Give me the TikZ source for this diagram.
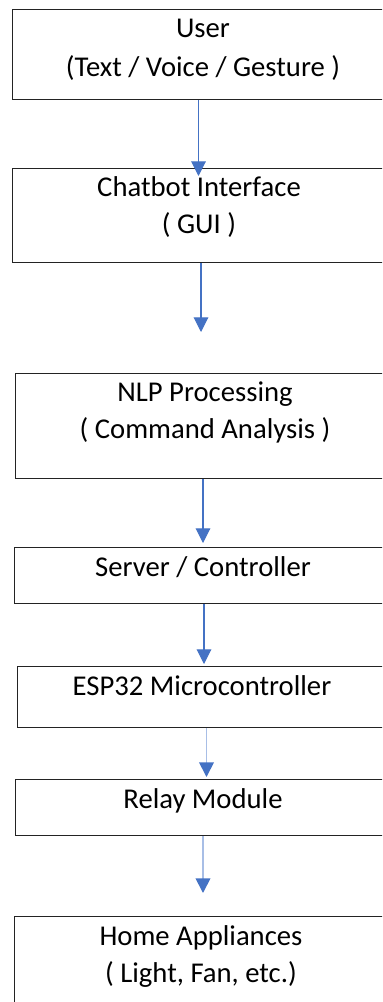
\documentclass[tikz,border=0pt]{standalone}
\usepackage{fontspec}
\setmainfont{Carlito}
\usetikzlibrary{arrows.meta,positioning}
\definecolor{flowblue}{RGB}{68,114,196}
\definecolor{fadeblue}{RGB}{168,190,230}
\definecolor{edge}{RGB}{35,35,35}

\tikzset{
  block/.style={draw=edge, line width=0.9pt, minimum width=285pt, inner sep=0pt, anchor=north west},
  caption/.style={anchor=base, align=center, inner sep=0pt, font=\fontsize{21.5}{27.75}\selectfont},
  flow/.style={flowblue, line width=0.8pt, -{Triangle[length=11pt,width=11pt]}},
  faded/.style={fadeblue, line width=1.3pt, -{Triangle[length=11pt,width=11pt,color=flowblue]}}
}

\begin{document}
\begin{tikzpicture}[x=0.75pt,y=-0.75pt]
  \useasboundingbox (0,0) rectangle (382,1002);
  \clip (0,0) rectangle (382,1002);

  % boxes
  \node[block, minimum height=67.5pt] (user) at (12,9) {};
  \node[block, minimum height=70.5pt] (gui) at (12,168) {};
  \node[block, minimum height=78.75pt] (nlp) at (15,373) {};
  \node[block, minimum height=42pt] (server) at (14,547) {};
  \node[block, minimum height=45.75pt] (esp) at (17,666) {};
  \node[block, minimum height=42pt] (relay) at (15,779) {};
  \node[block, minimum height=82.5pt] (home) at (14,916) {};

  % labels (anchor base = last line)
  \node[caption] (userTxt) at (203,77) {User\\[1.5pt](Text / Voice / Gesture )};
  \node[caption] (guiTxt) at (199,233) {Chatbot Interface\\( GUI )};
  \node[caption] (nlpTxt) at (205,438) {NLP Processing\\( Command Analysis )};
  \node[caption] (serverTxt) at (203,576) {Server / Controller};
  \node[caption] (espTxt) at (202,695) {ESP32 Microcontroller};
  \node[caption] (relayTxt) at (203,808) {Relay Module};
  \node[caption] (homeTxt) at (201,982) {Home Appliances\\( Light, Fan, etc.)};

  % arrows
  \coordinate (tip1) at (198.5,176);
  \coordinate (tip2) at (201,332);
  \coordinate (tip3) at (203,543);
  \coordinate (tip4) at (204,664);
  \coordinate (tip5) at (206.5,777);
  \coordinate (tip6) at (203,893);
  \draw[flow] (user.south -| tip1) -- (tip1);
  \draw[flow] (gui.south -| tip2) -- (tip2);
  \draw[flow] (nlp.south -| tip3) -- (tip3);
  \draw[flow] (server.south -| tip4) -- (tip4);
  \draw[faded] (esp.south -| tip5) -- (tip5);
  \draw[faded] (relay.south -| tip6) -- (tip6);
\end{tikzpicture}
\end{document}
